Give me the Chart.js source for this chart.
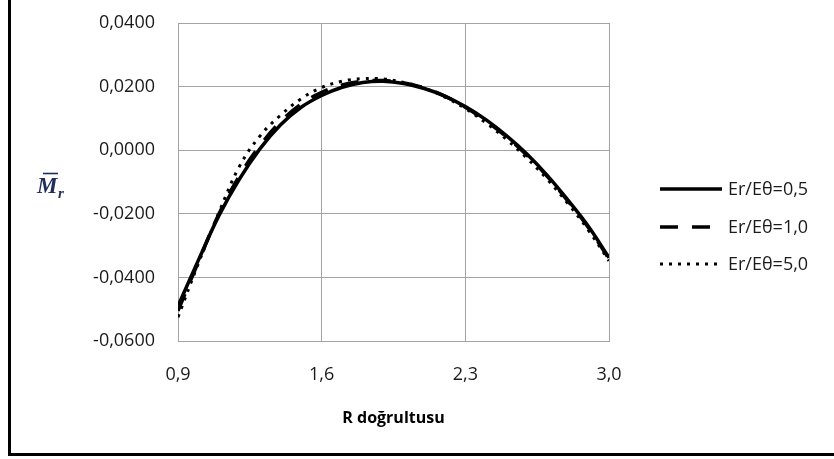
<!DOCTYPE html>
<html>
<head>
<meta charset="utf-8">
<script src="https://cdn.jsdelivr.net/npm/chart.js@4"></script>
<style>
  html, body { margin: 0; padding: 0; background: #fff; }
  #wrap { position: relative; width: 834px; height: 459px; }
</style>
</head>
<body>
<div id="wrap"><canvas id="chart" width="834" height="459"></canvas></div>
<script>
const rValues = [0.9, 1.0, 1.1, 1.2, 1.3, 1.4, 1.5, 1.6, 1.7, 1.8, 1.9, 2.0, 2.1, 2.2, 2.3, 2.4, 2.5, 2.6, 2.7, 2.8, 2.9, 3.0];
const mr05 = [-0.0490, -0.0345, -0.0205, -0.0090, 0.0005, 0.0080, 0.0135, 0.0172, 0.0198, 0.0213, 0.0217, 0.0210, 0.0194, 0.0170, 0.0137, 0.0096, 0.0046, -0.0012, -0.0080, -0.0157, -0.0240, -0.0338];
const mr10 = [-0.0505, -0.0350, -0.0200, -0.0080, 0.0015, 0.0090, 0.0145, 0.0182, 0.0205, 0.0217, 0.0219, 0.0212, 0.0196, 0.0170, 0.0135, 0.0092, 0.0042, -0.0016, -0.0083, -0.0160, -0.0244, -0.0342];
const mr50 = [-0.0525, -0.0355, -0.0195, -0.0050, 0.0045, 0.0110, 0.0162, 0.0197, 0.0217, 0.0225, 0.0224, 0.0213, 0.0195, 0.0167, 0.0131, 0.0086, 0.0034, -0.0025, -0.0092, -0.0168, -0.0252, -0.0348];
const seriesLabels = ['Er/Eθ=0,5', 'Er/Eθ=1,0', 'Er/Eθ=5,0'];
const xTicks = [0.9, 1.6, 2.3, 3.0];
const yTicks = [-0.06, -0.04, -0.02, 0, 0.02, 0.04];

const toPoints = (ys) => rValues.map((r, i) => ({ x: r, y: ys[i] }));
const gridColor = '#a3a3a3';
const tickFont = { family: 'Open Sans', size: 18 };

// frame, legend and y-axis symbol
const extras = {
  id: 'extras',
  afterDraw(chart) {
    const ctx = chart.ctx;
    ctx.save();
    // frame (left + bottom visible)
    ctx.strokeStyle = '#000';
    ctx.lineWidth = 3;
    ctx.beginPath();
    ctx.moveTo(9.5, 0);
    ctx.lineTo(9.5, 454.5);
    ctx.lineTo(834, 454.5);
    ctx.stroke();

    // legend
    const rows = [189, 227, 264];
    chart.data.datasets.forEach((ds, i) => {
      ctx.strokeStyle = ds.borderColor;
      ctx.lineWidth = ds.borderWidth;
      ctx.setLineDash(ds.borderDash || []);
      ctx.beginPath();
      ctx.moveTo(660, rows[i]);
      ctx.lineTo(i === 1 ? 710 : 722, rows[i]);
      ctx.stroke();
      ctx.setLineDash([]);
      ctx.fillStyle = '#1a1a1a';
      ctx.font = '18px "Open Sans"';
      ctx.textAlign = 'left';
      ctx.textBaseline = 'middle';
      ctx.fillText(ds.label, 728, rows[i] + 1);
    });

    // y axis symbol M̄r
    ctx.fillStyle = '#1f2d5c';
    ctx.strokeStyle = '#1f2d5c';
    ctx.textBaseline = 'alphabetic';
    ctx.font = 'italic bold 23px "Liberation Serif"';
    ctx.fillText('M', 37, 193);
    ctx.lineWidth = 1.6;
    ctx.beginPath();
    ctx.moveTo(43, 173.5);
    ctx.lineTo(58, 173.5);
    ctx.stroke();
    ctx.font = 'italic bold 15px "Liberation Serif"';
    ctx.fillText('r', 58, 198);
    ctx.restore();
  }
};

new Chart(document.getElementById('chart').getContext('2d'), {
  type: 'line',
  data: {
    datasets: [
      { label: seriesLabels[0], data: toPoints(mr05), borderColor: '#000', borderWidth: 3.5, pointRadius: 0, tension: 0.4, fill: false },
      { label: seriesLabels[1], data: toPoints(mr10), borderColor: '#000', borderWidth: 3.5, borderDash: [18, 14], pointRadius: 0, tension: 0.4, fill: false },
      { label: seriesLabels[2], data: toPoints(mr50), borderColor: '#000', borderWidth: 3, borderDash: [3, 6], pointRadius: 0, tension: 0.4, fill: false }
    ]
  },
  options: {
    responsive: false,
    animation: false,
    layout: { padding: { left: 0, top: 23, right: 225, bottom: 0 } },
    plugins: { legend: { display: false }, tooltip: { enabled: false } },
    scales: {
      x: {
        type: 'linear',
        min: 0.9,
        max: 3.0,
        afterBuildTicks: (s) => { s.ticks = xTicks.map(v => ({ value: v })); },
        afterFit: (s) => { s.height = 118; s.paddingLeft = 0; s.paddingRight = 0; },
        grid: { color: gridColor, drawTicks: false },
        border: { color: gridColor },
        ticks: {
          padding: 23,
          color: '#1a1a1a',
          font: tickFont,
          maxRotation: 0,
          callback: (v) => v.toFixed(1).replace('.', ',')
        },
        title: {
          display: true,
          text: 'R doğrultusu',
          color: '#000',
          padding: 31,
          font: { family: 'Open Sans', size: 16, weight: 'bold' }
        }
      },
      y: {
        min: -0.06,
        max: 0.04,
        afterBuildTicks: (s) => { s.ticks = yTicks.map(v => ({ value: v })); },
        afterFit: (s) => { s.width = 178; s.paddingTop = 0; s.paddingBottom = 0; },
        grid: { color: gridColor, drawTicks: false },
        border: { color: gridColor },
        ticks: {
          padding: 23,
          color: '#1a1a1a',
          font: tickFont,
          callback: (v) => (Math.abs(v) < 1e-9 ? 0 : v).toFixed(4).replace('.', ',')
        }
      }
    }
  },
  plugins: [extras]
});
</script>
</body>
</html>
